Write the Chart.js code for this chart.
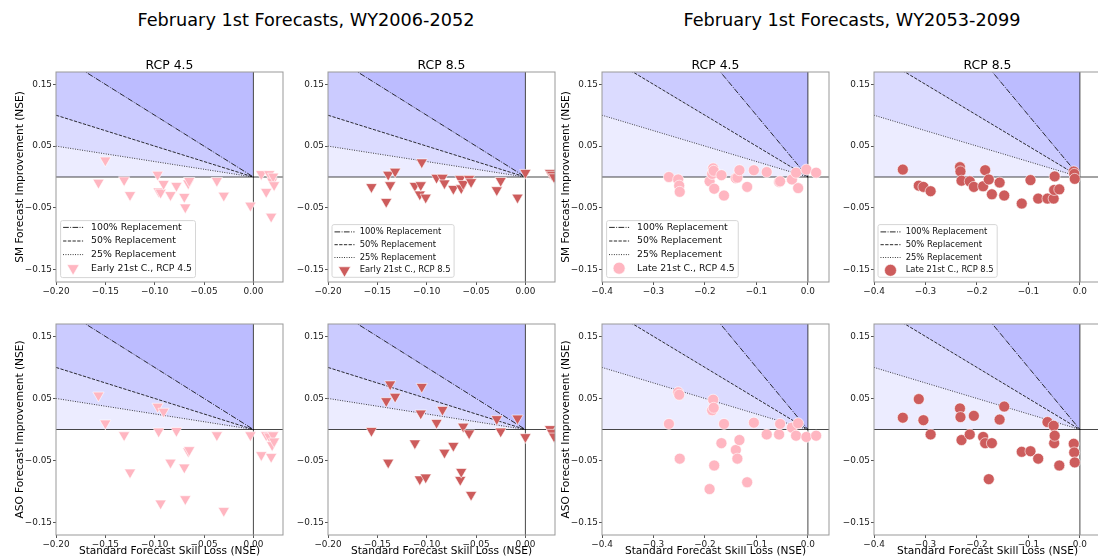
<!DOCTYPE html>
<html>
<head>
<meta charset="utf-8">
<script src="https://cdn.jsdelivr.net/npm/chart.js@4.4.0/dist/chart.umd.min.js"></script>
<style>
  html, body { margin: 0; padding: 0; width: 1098px; height: 560px; overflow: hidden; background: #fff; }
  canvas { position: absolute; }
  .sup { position: absolute; top: 10px; font-family: "DejaVu Sans"; font-size: 17.7px; line-height: 20px;
         white-space: nowrap; transform: translateX(-50%); color: #000; }
</style>
</head>
<body>
<div class="sup" style="left:306px">February 1st Forecasts, WY2006-2052</div>
<div class="sup" style="left:852px">February 1st Forecasts, WY2053-2099</div>
<script>
const FONT = "DejaVu Sans";

// tick labels
const yTicks = [-0.15, -0.05, 0.05, 0.15];
const xTicksEarly = [-0.20, -0.15, -0.10, -0.05, 0.00];
const xTicksLate = [-0.4, -0.3, -0.2, -0.1, 0.0];

// replacement lines (slope of the line through the origin)
const replacementNames = ["100% Replacement", "50% Replacement", "25% Replacement"];
const replacementSlopes = [1, 0.5, 0.25];

// early 21st C., RCP 4.5
const early45X   = [-0.157, -0.150, -0.131, -0.125, -0.097, -0.096, -0.094, -0.091, -0.084, -0.078, -0.070, -0.069,
                    -0.066, -0.065, -0.037, -0.030, -0.003, 0.008, 0.013, 0.016, 0.018, 0.019, 0.020, 0.021];
const early45SM  = [-0.009, 0.027, -0.005, -0.029, 0.004, -0.023, -0.025, -0.011, -0.029, -0.014, -0.032, -0.049,
                    -0.010, -0.006, -0.006, -0.030, -0.046, 0.005, -0.024, 0.005, -0.064, -0.007, 0.001, -0.013];
const early45ASO = [0.055, 0.010, -0.009, -0.069, 0.037, -0.003, -0.119, 0.029, -0.053, -0.002, -0.061, -0.112,
                    -0.035, -0.033, -0.009, -0.131, -0.009, -0.041, -0.009, -0.011, -0.044, -0.025, -0.009, -0.019];

// early 21st C., RCP 8.5
const early85X   = [-0.156, -0.141, -0.139, -0.137, -0.132, -0.112, -0.107, -0.106, -0.105, -0.101, -0.090, -0.084, -0.082,
                    -0.073, -0.066, -0.065, -0.063, -0.057, -0.055, -0.029, -0.025, -0.008, 0.000, 0.025, 0.027, 0.029];
const early85SM  = [-0.016, -0.040, 0.004, -0.013, 0.009, -0.014, -0.028, -0.013, 0.024, -0.033, -0.001, -0.001, -0.010,
                    -0.019, -0.003, -0.018, -0.011, -0.003, -0.008, -0.021, -0.006, -0.033, 0.007, 0.007, 0.004, 0.000];
const early85ASO = [-0.002, 0.046, -0.053, 0.073, 0.053, -0.022, -0.080, 0.026, 0.069, -0.077, 0.011, 0.032, -0.037,
                    -0.026, -0.081, -0.068, 0.005, -0.006, -0.105, 0.017, -0.003, 0.018, -0.012, 0.001, -0.005, -0.011];

// late 21st C., RCP 4.5
const late45X   = [-0.270, -0.252, -0.250, -0.249, -0.191, -0.186, -0.184, -0.183, -0.182, -0.168, -0.163, -0.140,
                   -0.137, -0.133, -0.118, -0.105, -0.080, -0.056, -0.054, -0.031, -0.023, -0.019, -0.003, 0.016];
const late45SM  = [0.000, -0.004, -0.014, -0.024, -0.007, 0.005, 0.014, 0.010, -0.019, 0.003, -0.030, -0.002,
                   -0.001, 0.011, -0.016, 0.011, 0.008, -0.008, -0.007, -0.004, 0.007, -0.018, 0.012, 0.007];
const late45ASO = [0.009, 0.060, 0.056, -0.047, -0.096, 0.031, 0.048, 0.035, -0.058, -0.022, 0.009, -0.033,
                   -0.047, -0.017, -0.085, 0.011, -0.008, -0.008, 0.009, 0.003, -0.010, 0.010, -0.012, -0.010];

// late 21st C., RCP 8.5
const late85X   = [-0.344, -0.313, -0.304, -0.290, -0.233, -0.232, -0.230, -0.214, -0.206, -0.188, -0.184, -0.177, -0.171,
                   -0.156, -0.147, -0.113, -0.096, -0.081, -0.063, -0.051, -0.050, -0.049, -0.040, -0.012, -0.011, -0.010];
const late85SM  = [0.012, -0.014, -0.016, -0.023, 0.016, 0.009, -0.006, -0.007, -0.016, -0.015, 0.011, -0.004, -0.028,
                   -0.009, -0.030, -0.043, -0.005, -0.035, -0.035, -0.035, -0.021, 0.001, -0.020, 0.009, 0.005, -0.003];
const late85ASO = [0.019, 0.049, 0.015, -0.008, 0.034, 0.020, -0.017, -0.008, 0.022, -0.012, -0.022, -0.080, -0.022,
                   0.016, 0.037, -0.036, -0.035, -0.047, 0.012, 0.006, -0.022, -0.010, -0.058, -0.023, -0.037, -0.053];

const PINK = "#ffb6c1";
const RED = "#cd5c5c";
const BAND = "rgba(0, 0, 255, 0.075)";
const DASHES = [[5.7, 1.4, 0.9, 1.4], [3.3, 1.4], [0.9, 1.5]];

function fmt(v, dec) {
  const s = Math.abs(v).toFixed(dec);
  return (v < -1e-9 ? "\u2212" : "") + s;
}

// draws the top/right spines plus the legend box
const framePlugin = {
  id: "frame",
  afterDatasetsDraw(chart, args, opts) {
    const ctx = chart.ctx;
    const a = chart.chartArea;
    ctx.save();
    ctx.strokeStyle = "#999";
    ctx.lineWidth = 1;
    ctx.strokeRect(a.left, a.top, a.right - a.left, a.bottom - a.top);

    if (opts && opts.show) {
      ctx.font = opts.size + "px " + FONT;
      let tw = 0;
      opts.labels.forEach(t => { tw = Math.max(tw, ctx.measureText(t).width); });
      const bx = a.left + opts.dx;
      const bw = opts.textX + tw + 3.5;
      const by = a.bottom - opts.dy - opts.h;
      ctx.fillStyle = "rgba(255,255,255,0.8)";
      ctx.strokeStyle = "#d6d6d6";
      ctx.beginPath();
      ctx.roundRect(bx, by, bw, opts.h, 2);
      ctx.fill();
      ctx.stroke();
      for (let k = 0; k < 4; k++) {
        const cy = by + opts.first + k * opts.row;
        if (k < 3) {
          ctx.strokeStyle = "rgba(0,0,0,0.85)";
          ctx.lineWidth = 1;
          ctx.setLineDash(DASHES[k]);
          ctx.beginPath();
          ctx.moveTo(bx + 2.5, cy);
          ctx.lineTo(bx + 22.5, cy);
          ctx.stroke();
          ctx.setLineDash([]);
        } else {
          ctx.fillStyle = opts.color;
          ctx.strokeStyle = "#fff";
          ctx.lineWidth = 0.6;
          Chart.helpers.drawPoint(ctx, {
            pointStyle: opts.marker,
            radius: opts.marker === "triangle" ? 7 : 6,
            rotation: opts.marker === "triangle" ? 180 : 0,
            borderWidth: 0.6
          }, bx + 12.5, cy);
        }
        ctx.fillStyle = "#111";
        ctx.textAlign = "left";
        ctx.textBaseline = "middle";
        ctx.fillText(opts.labels[k], bx + opts.textX, cy);
      }
    }
    ctx.restore();
  }
};

const rows = [
  { top: 72, h: 210, yTitle: "SM Forecast Improvement (NSE)", xTitle: "", legend: true },
  { top: 324, h: 211, yTitle: "ASO Forecast Improvement (NSE)", xTitle: "Standard Forecast Skill Loss (NSE)", legend: false }
];
const cols = [
  { left: 56, xMin: -0.2, xMax: 0.03, xTicks: xTicksEarly, dec: 2, x: early45X, sm: early45SM, aso: early45ASO,
    name: "Early 21st C., RCP 4.5", title: "RCP 4.5", color: PINK, marker: "triangle", yLabel: true },
  { left: 328, xMin: -0.2, xMax: 0.03, xTicks: xTicksEarly, dec: 2, x: early85X, sm: early85SM, aso: early85ASO,
    name: "Early 21st C., RCP 8.5", title: "RCP 8.5", color: RED, marker: "triangle", yLabel: false },
  { left: 602, xMin: -0.4, xMax: 0.041, xTicks: xTicksLate, dec: 1, x: late45X, sm: late45SM, aso: late45ASO,
    name: "Late 21st C., RCP 4.5", title: "RCP 4.5", color: PINK, marker: "circle", yLabel: true },
  { left: 874, xMin: -0.4, xMax: 0.041, xTicks: xTicksLate, dec: 1, x: late85X, sm: late85SM, aso: late85ASO,
    name: "Late 21st C., RCP 8.5", title: "RCP 8.5", color: RED, marker: "circle", yLabel: false }
];
const W = 227;
const YMIN = -0.17, YMAX = 0.17;

function makePanel(row, col, ri) {
  const yVals = ri === 0 ? col.sm : col.aso;
  const cv = document.createElement("canvas");
  cv.width = 56 + W + 10;
  cv.height = 30 + row.h + 25;
  cv.style.left = (col.left - 56) + "px";
  cv.style.top = (row.top - 30) + "px";
  document.body.appendChild(cv);

  const datasets = [];
  datasets.push({
    type: "scatter", label: col.name,
    data: col.x.map((v, i) => ({ x: v, y: yVals[i] })),
    pointStyle: col.marker,
    pointRotation: col.marker === "triangle" ? 180 : 0,
    pointRadius: col.marker === "triangle" ? 6.5 : 5.5,
    backgroundColor: col.color, borderColor: "#fff", borderWidth: 0.6,
    clip: 0, order: 0
  });
  // zero lines
  datasets.push({
    type: "line", label: "h0", data: [{ x: col.xMin, y: 0 }, { x: col.xMax, y: 0 }],
    borderColor: "rgba(0,0,0,0.72)", borderWidth: 1, pointRadius: 0, fill: false, clip: 0, order: 1
  });
  datasets.push({
    type: "line", label: "v0", data: [{ x: 0, y: YMIN }, { x: 0, y: YMAX }],
    borderColor: "rgba(0,0,0,0.72)", borderWidth: 1, pointRadius: 0, fill: false, clip: 0, order: 1
  });
  // replacement lines, each filling up to the top
  replacementSlopes.forEach((s, k) => {
    datasets.push({
      type: "line", label: replacementNames[k],
      data: [{ x: col.xMin, y: -s * col.xMin }, { x: 0, y: 0 }],
      borderColor: "rgba(0,0,0,0.8)", borderWidth: 1, borderDash: DASHES[k], pointRadius: 0,
      fill: "end", backgroundColor: BAND, clip: 0, order: 2 + k
    });
  });
  // base band above zero
  datasets.push({
    type: "line", label: "base", data: [{ x: col.xMin, y: 0 }, { x: 0, y: 0 }],
    borderWidth: 0, borderColor: "rgba(0,0,0,0)", pointRadius: 0,
    fill: "end", backgroundColor: BAND, clip: 0, order: 6
  });

  const big = col.yLabel;
  new Chart(cv, {
    type: "scatter",
    data: { datasets },
    options: {
      responsive: false, animation: false, events: [],
      layout: { padding: { left: 0, right: 10, top: ri === 0 ? 0 : 30, bottom: 0 } },
      scales: {
        x: {
          type: "linear", position: "bottom", min: col.xMin, max: col.xMax, bounds: "data",
          afterBuildTicks: s => { s.ticks = col.xTicks.map(v => ({ value: v })); },
          afterFit: s => { s.height = 25; },
          ticks: { callback: v => fmt(v, col.dec), font: { family: FONT, size: 8.9 }, color: "#1a1a1a",
                   padding: 1, maxRotation: 0, autoSkip: false },
          grid: { drawOnChartArea: false, drawTicks: true, tickLength: 3, color: "#555" },
          border: { display: false },
          title: { display: !!row.xTitle, text: row.xTitle, color: "#000",
                   font: { family: FONT, size: 10.6, lineHeight: 1.2 }, padding: { top: 0, bottom: 2.5 } }
        },
        y: {
          type: "linear", position: "left", min: YMIN, max: YMAX, bounds: "data",
          afterBuildTicks: s => { s.ticks = yTicks.map(v => ({ value: v })); },
          afterFit: s => { s.width = 56; },
          ticks: { callback: v => fmt(v, 2), font: { family: FONT, size: 8.9 }, color: "#1a1a1a",
                   padding: 1, autoSkip: false },
          grid: { drawOnChartArea: false, drawTicks: true, tickLength: 3, color: "#555" },
          border: { display: false },
          title: { display: col.yLabel, text: row.yTitle, color: "#000",
                   font: { family: FONT, size: 10.6, lineHeight: 1.2 }, padding: { top: 14.1, bottom: 0 } }
        }
      },
      plugins: {
        legend: { display: false },
        tooltip: { enabled: false },
        title: { display: ri === 0, text: col.title, fullSize: false, color: "#000",
                 font: { family: FONT, size: 12.4, lineHeight: 1, weight: "normal" },
                 padding: { top: 17.3, bottom: 0.3 } },
        frame: {
          show: row.legend,
          labels: replacementNames.concat([col.name]),
          color: col.color, marker: col.marker,
          size: big ? 9.3 : 8.4,
          dx: big ? 4.6 : 4,
          dy: big ? 4.4 : 4.7,
          h: big ? 57 : 52.7,
          first: big ? 6.8 : 7.3,
          row: big ? 13.6 : 12.8,
          textX: big ? 30.5 : 27.7
        }
      }
    },
    plugins: [framePlugin]
  });
}

rows.forEach((row, ri) => cols.forEach(col => makePanel(row, col, ri)));
</script>
</body>
</html>
